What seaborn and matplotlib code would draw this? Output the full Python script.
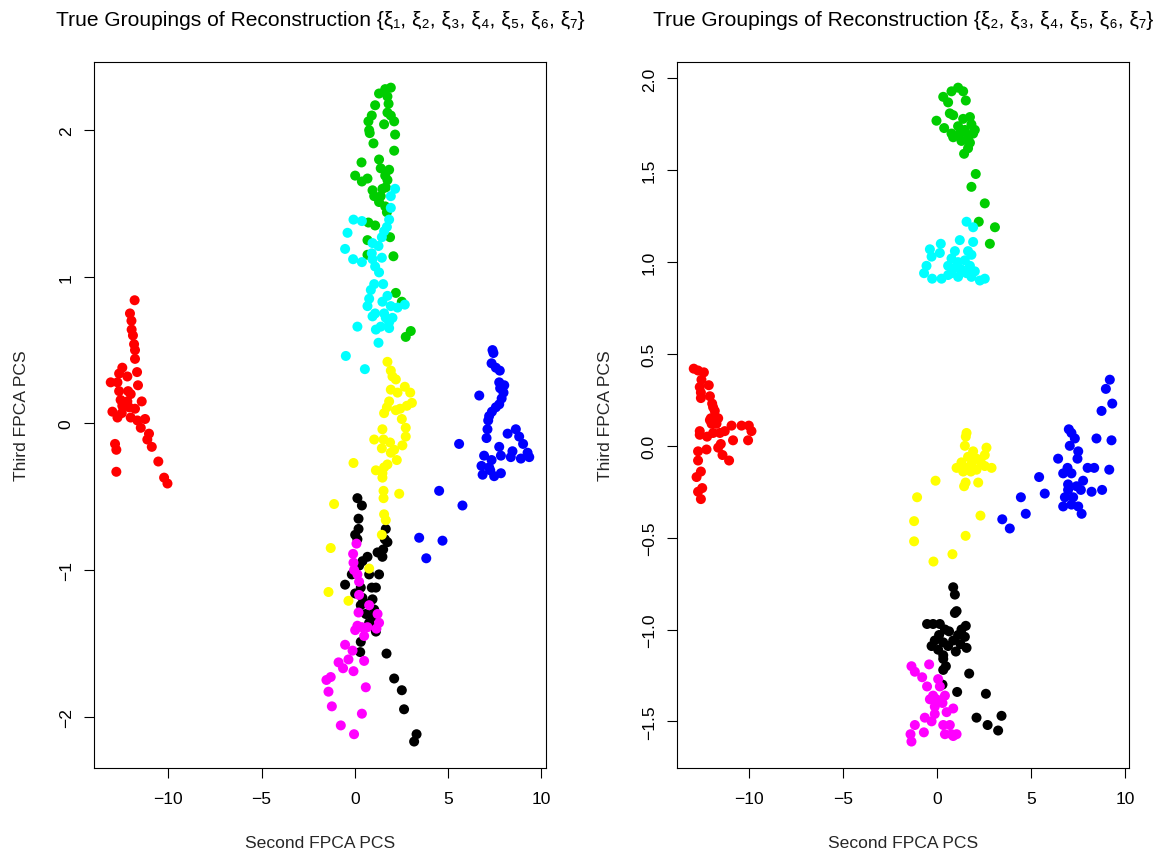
import numpy as np
import pandas as pd
import matplotlib
matplotlib.use("Agg")
import matplotlib.pyplot as plt
import seaborn as sns

# ---------------- data ----------------
# Left panel: reconstruction with xi_1..xi_7
L_red_x = [-11.80, -12.05, -11.97, -11.96, -11.89, -11.83, -11.78, -11.78, -12.46, -11.67,
           -12.63, -12.19, -13.08, -12.72, -11.62, -12.63, -12.15, -12.01, -12.55, -12.19,
           -11.42, -12.46, -12.10, -11.78, -12.99, -12.49, -12.72, -12.01, -11.65, -11.24,
           -11.47, -11.03, -11.12, -10.88, -12.85, -12.78, -10.53, -12.78, -10.22, -10.04]
L_red_y = [0.84, 0.75, 0.70, 0.64, 0.60, 0.54, 0.50, 0.44, 0.38, 0.35,
           0.34, 0.32, 0.28, 0.28, 0.26, 0.22, 0.22, 0.20, 0.16, 0.15,
           0.15, 0.12, 0.11, 0.10, 0.08, 0.07, 0.04, 0.04, 0.02, 0.03,
           -0.03, -0.07, -0.11, -0.16, -0.14, -0.18, -0.26, -0.33, -0.37, -0.41]

L_green_x = [1.93, 1.63, 1.30, 1.75, 1.81, 1.09, 1.75, 0.91, 1.93, 0.73,
             1.57, 2.11, 0.77, 0.80, 2.16, 1.00, 2.11, 0.36, 1.30, 1.39,
             1.84, 0.02, 1.63, 0.68, 0.38, 1.75, 1.66, 0.95, 1.48, 1.04,
             1.39, 1.30, 1.63, 1.72, 0.73, 1.09, 1.89, 0.68, 0.68, 2.07,
             2.20, 2.52, 3.00, 2.73]
L_green_y = [2.29, 2.28, 2.25, 2.23, 2.18, 2.17, 2.12, 2.10, 2.10, 2.06,
             2.04, 2.06, 2.00, 1.98, 1.97, 1.91, 1.86, 1.78, 1.80, 1.74,
             1.73, 1.69, 1.69, 1.67, 1.65, 1.66, 1.61, 1.59, 1.60, 1.55,
             1.55, 1.51, 1.48, 1.44, 1.37, 1.35, 1.27, 1.25, 1.15, 1.14,
             0.89, 0.83, 0.63, 0.59]

L_cyan_x = [2.16, 1.93, 1.93, -0.07, 0.38, 1.84, 1.72, -0.39, 1.57, 1.45,
            0.95, 1.27, -0.52, 0.91, 1.45, -0.09, 0.38, 0.95, 1.09, 1.30,
            1.04, 1.52, 0.86, 1.75, 0.77, 1.48, 0.68, 1.93, 2.68, 2.29,
            1.09, 1.57, 0.95, 1.66, 2.02, 1.84, 1.39, 0.14, 1.13, 1.84,
            1.27, -0.48, 0.54]
L_cyan_y = [1.60, 1.55, 1.47, 1.39, 1.38, 1.39, 1.34, 1.30, 1.31, 1.27,
            1.23, 1.21, 1.19, 1.16, 1.13, 1.12, 1.10, 1.12, 1.07, 1.03,
            0.95, 0.95, 0.91, 0.87, 0.85, 0.83, 0.80, 0.80, 0.81, 0.79,
            0.75, 0.75, 0.73, 0.72, 0.72, 0.69, 0.66, 0.66, 0.64, 0.65,
            0.55, 0.46, 0.37]

L_yellow_x = [1.75, 1.93, 2.02, 2.20, 2.68, 1.93, 2.29, 2.97, 1.84, 3.06,
              2.79, 1.72, 2.20, 2.43, 1.57, 2.52, 2.73, 1.48, 2.73, 1.04,
              1.54, 1.89, 1.45, 2.11, 2.55, 1.93, 2.25, 1.75, -0.07, 1.57,
              1.13, 1.48, 1.48, 1.54, 1.54, 2.38, -1.11, 1.57, 1.66, -1.29,
              0.77, -1.41, -0.34, 1.45]
L_yellow_y = [0.42, 0.36, 0.32, 0.30, 0.25, 0.23, 0.21, 0.21, 0.15, 0.14,
              0.12, 0.11, 0.09, 0.10, 0.07, 0.03, -0.03, -0.04, -0.09, -0.11,
              -0.11, -0.13, -0.17, -0.18, -0.15, -0.20, -0.25, -0.28, -0.27, -0.30,
              -0.32, -0.34, -0.37, -0.46, -0.51, -0.48, -0.55, -0.62, -0.66, -0.85,
              -0.99, -1.15, -1.21, -0.76]

L_blue_x = [7.38, 7.43, 7.33, 7.56, 7.77, 7.74, 8.01, 7.79, 7.97, 6.67,
            7.87, 7.74, 7.56, 7.35, 7.20, 7.15, 7.11, 8.63, 8.19, 8.81,
            7.06, 5.59, 9.02, 7.74, 8.45, 9.26, 6.93, 7.83, 8.36, 9.35,
            8.90, 7.33, 6.79, 7.20, 7.83, 6.85, 7.47, 7.26, 4.52, 5.77,
            3.45, 4.70, 3.83]
L_blue_y = [0.50, 0.48, 0.41, 0.38, 0.36, 0.28, 0.26, 0.24, 0.21, 0.19,
            0.17, 0.13, 0.11, 0.08, 0.05, 0.02, -0.04, -0.04, -0.07, -0.09,
            -0.10, -0.14, -0.14, -0.16, -0.19, -0.20, -0.22, -0.22, -0.23, -0.23,
            -0.24, -0.25, -0.29, -0.30, -0.34, -0.35, -0.36, -0.32, -0.46, -0.56,
            -0.78, -0.80, -0.92]

L_black_x = [0.14, 0.38, 0.20, 0.20, 0.02, 0.14, 1.66, 1.61, 1.75, 1.52,
             1.22, 1.48, 0.68, 0.41, 0.23, -0.16, 0.77, 1.30, -0.52, 0.32,
             0.91, 1.13, 0.02, 0.41, 0.95, 0.77, 0.32, 1.04, 0.59, 0.95,
             0.77, 0.86, 1.13, 0.32, 0.29, 1.70, 2.11, 2.52, 2.64, 3.31,
             3.18]
L_black_y = [-0.51, -0.56, -0.65, -0.72, -0.76, -0.79, -0.72, -0.79, -0.81, -0.86,
             -0.88, -0.91, -0.91, -0.94, -0.97, -1.03, -1.03, -1.03, -1.10, -1.12,
             -1.12, -1.12, -1.16, -1.19, -1.20, -1.23, -1.24, -1.27, -1.30, -1.32,
             -1.36, -1.38, -1.42, -1.49, -1.56, -1.57, -1.74, -1.82, -1.95, -2.12,
             -2.17]

L_magenta_x = [0.09, -0.09, -0.07, -0.04, 0.14, 0.23, 0.23, 0.77, 1.22, 0.20,
               1.30, 0.14, 0.38, 0.68, 1.16, 0.02, 0.50, -0.52, -0.12, -0.34,
               0.50, -0.87, -0.63, -0.07, -1.29, -1.52, -1.41, 0.59, -1.23, 0.38,
               -0.75, -0.04]
L_magenta_y = [-0.82, -0.89, -0.95, -1.00, -1.03, -1.08, -1.17, -1.24, -1.30, -1.29,
               -1.36, -1.38, -1.39, -1.39, -1.40, -1.41, -1.45, -1.51, -1.55, -1.61,
               -1.62, -1.63, -1.67, -1.69, -1.73, -1.75, -1.83, -1.80, -1.93, -1.98,
               -2.06, -2.12]

# Right panel: reconstruction with xi_2..xi_7
R_red_x = [-12.93, -12.70, -12.39, -12.52, -12.13, -12.61, -12.55, -12.07, -12.55, -11.95,
           -11.90, -11.81, -12.02, -11.63, -11.98, -11.72, -10.92, -10.39, -10.00, -9.86,
           -12.61, -11.28, -11.54, -11.90, -12.61, -12.22, -10.84, -10.04, -11.49, -11.63,
           -12.25, -12.70, -11.40, -11.05, -12.70, -12.55, -12.78, -12.48, -12.70, -12.55,
           -11.81, -12.07]
R_red_y = [0.42, 0.41, 0.40, 0.36, 0.33, 0.32, 0.29, 0.27, 0.26, 0.23,
           0.21, 0.16, 0.15, 0.15, 0.12, 0.12, 0.11, 0.11, 0.11, 0.08,
           0.08, 0.08, 0.07, 0.07, 0.06, 0.05, 0.03, 0.03, 0.01, -0.01,
           -0.02, -0.03, -0.05, -0.08, -0.08, -0.14, -0.17, -0.23, -0.25, -0.29,
           0.19, 0.14]

R_green_x = [1.13, 0.78, 1.40, 0.34, 0.60, 1.54, 0.69, -0.02, 0.87, 1.40,
             1.76, 1.84, 0.39, 1.13, 1.49, 2.02, 0.78, 1.22, 1.93, 1.66,
             0.87, 1.31, 1.76, 1.66, 1.45, 2.07, 1.84, 2.55, 2.23, 3.09,
             2.82]
R_green_y = [1.95, 1.93, 1.93, 1.90, 1.87, 1.88, 1.81, 1.77, 1.80, 1.78,
             1.79, 1.75, 1.73, 1.74, 1.72, 1.72, 1.70, 1.70, 1.70, 1.68,
             1.68, 1.66, 1.65, 1.62, 1.59, 1.48, 1.41, 1.32, 1.22, 1.19,
             1.10]

R_cyan_x = [1.58, 1.93, 0.21, 1.22, 1.93, -0.37, 0.16, 0.96, 1.66, -0.28,
            0.78, 1.84, 1.13, 1.49, -0.55, 0.60, 0.96, 1.76, 1.31, -0.68,
            0.78, 1.58, 2.02, -0.25, 0.25, 0.60, 1.13, 1.84, 2.29, 2.55]
R_cyan_y = [1.22, 1.19, 1.10, 1.12, 1.11, 1.07, 1.05, 1.06, 1.06, 1.03,
            1.02, 1.04, 1.00, 1.01, 0.98, 0.98, 0.97, 0.98, 0.96, 0.94,
            0.94, 0.94, 0.95, 0.91, 0.91, 0.93, 0.92, 0.92, 0.90, 0.91]

R_yellow_x = [1.58, 1.54, 1.49, 2.64, 1.93, 2.55, 1.66, 2.11, 1.31, 2.34,
              1.84, 1.05, 1.58, 2.55, 2.91, 2.11, 1.40, 1.81, -0.07, 1.53,
              2.20, 1.45, -1.05, 2.32, -1.21, 1.53, -1.21, 0.83, -0.18]
R_yellow_y = [0.07, 0.05, 0.00, -0.01, -0.03, -0.05, -0.06, -0.07, -0.09, -0.09,
              -0.10, -0.12, -0.12, -0.11, -0.12, -0.13, -0.14, -0.14, -0.19, -0.20,
              -0.20, -0.22, -0.28, -0.38, -0.41, -0.49, -0.52, -0.59, -0.63]

R_blue_x = [9.20, 8.99, 9.33, 8.76, 7.02, 7.16, 7.34, 8.49, 9.29, 7.07,
            7.52, 6.45, 7.48, 6.95, 8.02, 8.37, 9.17, 6.72, 7.16, 5.44,
            7.78, 6.98, 7.43, 7.66, 8.23, 8.79, 5.74, 6.98, 6.81, 7.25,
            4.47, 6.72, 7.16, 7.52, 7.70, 4.73, 3.48, 3.88]
R_blue_y = [0.36, 0.31, 0.23, 0.19, 0.09, 0.07, 0.04, 0.04, 0.03, 0.00,
            -0.03, -0.07, -0.07, -0.12, -0.12, -0.12, -0.13, -0.15, -0.15, -0.17,
            -0.19, -0.21, -0.22, -0.24, -0.25, -0.24, -0.26, -0.24, -0.28, -0.28,
            -0.28, -0.33, -0.32, -0.33, -0.37, -0.37, -0.40, -0.45]

R_black_x = [0.87, 0.96, 1.05, 0.96, -0.52, -0.20, 0.16, 1.54, 0.43, 1.31,
             0.65, 0.12, 1.13, 1.49, -0.11, 0.87, 0.34, 1.26, -0.28, 0.60,
             1.58, 0.07, 1.01, 0.34, 0.34, 0.48, 0.34, 1.72, 0.30, 1.08,
             2.61, 3.44, 2.11, 2.70, 3.26]
R_black_y = [-0.77, -0.81, -0.90, -0.91, -0.97, -0.97, -0.97, -0.98, -1.00, -1.00,
             -1.01, -1.03, -1.03, -1.04, -1.06, -1.06, -1.07, -1.08, -1.09, -1.09,
             -1.10, -1.11, -1.12, -1.14, -1.16, -1.20, -1.22, -1.24, -1.30, -1.34,
             -1.35, -1.47, -1.48, -1.52, -1.55]

R_magenta_x = [-1.35, -0.41, -1.17, -0.78, 0.07, -0.52, 0.16, -0.20, 0.43, -0.37,
               -0.02, 0.30, -0.11, 0.87, 0.52, -0.11, -0.64, -0.28, -1.17, 0.34,
               0.69, 0.43, 0.78, 1.05, -0.69, -1.40, -1.35, 0.87]
R_magenta_y = [-1.20, -1.19, -1.23, -1.26, -1.27, -1.31, -1.31, -1.36, -1.36, -1.38,
               -1.38, -1.40, -1.42, -1.43, -1.45, -1.46, -1.48, -1.50, -1.52, -1.52,
               -1.52, -1.57, -1.57, -1.57, -1.56, -1.57, -1.61, -1.58]

group_order = ["black", "red", "green", "blue", "cyan", "magenta", "yellow"]
group_colors = {"black": "#000000", "red": "#FF0000", "green": "#00CD00",
                "blue": "#0000FF", "cyan": "#00FFFF", "magenta": "#FF00FF",
                "yellow": "#FFFF00"}

left_groups = {"black": (L_black_x, L_black_y), "red": (L_red_x, L_red_y),
               "green": (L_green_x, L_green_y), "blue": (L_blue_x, L_blue_y),
               "cyan": (L_cyan_x, L_cyan_y), "magenta": (L_magenta_x, L_magenta_y),
               "yellow": (L_yellow_x, L_yellow_y)}
right_groups = {"black": (R_black_x, R_black_y), "red": (R_red_x, R_red_y),
                "green": (R_green_x, R_green_y), "blue": (R_blue_x, R_blue_y),
                "cyan": (R_cyan_x, R_cyan_y), "magenta": (R_magenta_x, R_magenta_y),
                "yellow": (R_yellow_x, R_yellow_y)}

x_ticks = [-10, -5, 0, 5, 10]
left_y_ticks = [-2, -1, 0, 1, 2]
right_y_ticks = [-1.5, -1.0, -0.5, 0.0, 0.5, 1.0, 1.5, 2.0]

title_left = "True Groupings of Reconstruction {ξ\u2081, ξ\u2082, ξ\u2083, ξ\u2084, ξ\u2085, ξ\u2086, ξ\u2087}"
title_right = "True Groupings of Reconstruction {ξ\u2082, ξ\u2083, ξ\u2084, ξ\u2085, ξ\u2086, ξ\u2087}"
x_label = "Second FPCA PCS"
y_label = "Third FPCA PCS"

# ---------------- style ----------------
sns.set_theme(style="white")
plt.rcParams["font.family"] = ["Liberation Sans", "DejaVu Sans"]
plt.rcParams["axes.unicode_minus"] = True

W, H = 1162, 854
fig = plt.figure(figsize=(W / 100, H / 100), dpi=100)
fig.patch.set_facecolor("white")

box_w, box_top, box_bot = 452, 62.5, 768.7
ax_l = fig.add_axes([94 / W, 1 - box_bot / H, box_w / W, (box_bot - box_top) / H])
ax_r = fig.add_axes([677 / W, 1 - box_bot / H, box_w / W, (box_bot - box_top) / H])

FS = 12.6


def frame(groups):
    parts = []
    for g in group_order:
        xs, ys = groups[g]
        n = min(len(xs), len(ys))
        parts.append(pd.DataFrame({"x": xs[:n], "y": ys[:n], "group": g}))
    return pd.concat(parts, ignore_index=True)


def draw(ax, groups, yticks, yfmt, title, left_px):
    df = frame(groups)
    sns.scatterplot(data=df, x="x", y="y", hue="group", hue_order=group_order,
                    palette=group_colors, s=52, linewidth=0, edgecolor="none",
                    legend=False, ax=ax, zorder=3)
    # R style 4% range expansion
    xlo, xhi = df["x"].min(), df["x"].max()
    ylo, yhi = df["y"].min(), df["y"].max()
    ax.set_xlim(xlo - 0.04 * (xhi - xlo), xhi + 0.04 * (xhi - xlo))
    ax.set_ylim(ylo - 0.04 * (yhi - ylo), yhi + 0.04 * (yhi - ylo))
    ax.set_facecolor("white")
    ax.set_xticks(x_ticks)
    ax.set_xticklabels([str(t).replace("-", "\u2212") for t in x_ticks])
    ax.set_yticks(yticks)
    ax.set_yticklabels([(yfmt % t).replace("-", "\u2212") for t in yticks])
    ax.tick_params(axis="both", direction="out", length=7.5, width=0.8,
                   colors="black", labelsize=FS, bottom=True, left=True,
                   top=False, right=False)
    ax.tick_params(axis="x", pad=9)
    ax.tick_params(axis="y", pad=7, labelrotation=90)
    for lab in ax.get_yticklabels():
        lab.set_va("center")
    for sp in ax.spines.values():
        sp.set_visible(True)
        sp.set_color("black")
        sp.set_linewidth(0.8)
    ax.grid(False)
    ax.set_xlabel(x_label, fontsize=FS, va="center")
    ax.set_ylabel(y_label, fontsize=FS, va="center", ha="center")
    ax.xaxis.set_label_coords(0.5, (box_bot - 843) / (box_bot - box_top))
    ax.yaxis.set_label_coords(-72 / box_w, 0.5)
    fig.text((left_px + box_w / 2) / W, 1 - 20 / H, title, ha="center",
             va="center", fontsize=15.1, color="black")


draw(ax_l, left_groups, left_y_ticks, "%g", title_left, 94)
draw(ax_r, right_groups, right_y_ticks, "%.1f", title_right, 677)

fig.savefig("out.png", dpi=100, facecolor="white")
